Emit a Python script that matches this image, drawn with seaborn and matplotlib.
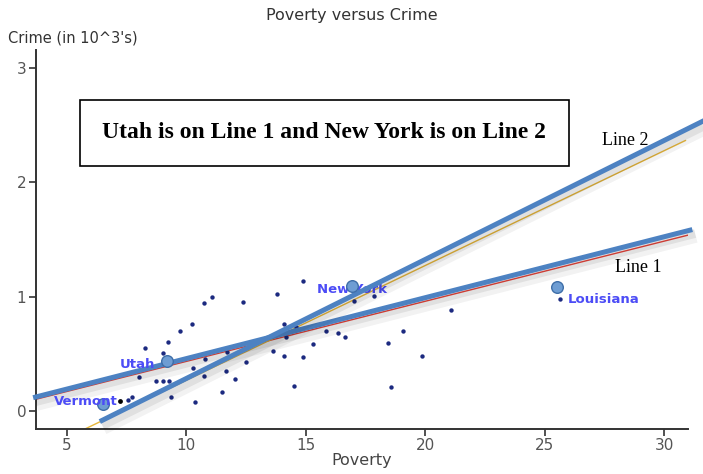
import numpy as np
import pandas as pd
import matplotlib
matplotlib.use("Agg")
import matplotlib.pyplot as plt
import matplotlib.patheffects as pe
import seaborn as sns

# State poverty rate (%) vs crime (thousands)
poverty = [9.73, 9.25, 8.30, 9.03, 8.03, 8.72, 9.03, 9.30, 7.75, 7.58, 9.38,
           14.88, 13.80, 12.37, 11.10, 10.73, 10.23, 14.10, 14.58, 15.87, 15.30,
           14.17, 13.65, 14.10, 14.88, 11.73, 10.80, 12.51, 10.28, 11.67, 10.73,
           12.03, 14.51, 11.51, 10.38, 17.03, 17.88, 21.08, 16.36, 16.65, 19.08,
           18.44, 19.88, 18.58, 25.65]
crime = [0.700, 0.605, 0.553, 0.503, 0.298, 0.260, 0.260, 0.260, 0.118, 0.094, 0.123,
         1.138, 1.024, 0.953, 0.997, 0.945, 0.760, 0.760, 0.737, 0.700, 0.585,
         0.644, 0.526, 0.482, 0.474, 0.512, 0.454, 0.425, 0.375, 0.351, 0.307,
         0.278, 0.214, 0.167, 0.074, 0.965, 1.006, 0.883, 0.679, 0.644, 0.700,
         0.597, 0.482, 0.205, 0.977]

# Single point drawn in black
black_x = [7.25]
black_y = [0.085]

# Highlighted states
states = ["Vermont", "Utah", "New York", "Louisiana"]
state_poverty = [6.54, 9.21, 16.94, 25.52]
state_crime = [0.056, 0.436, 1.088, 1.082]

# Fitted lines (intercept, slope) and drawn x-range
fit1 = (-0.096, 0.0527)      # thin red fit
fit2 = (-0.741, 0.1006)      # thin yellow fit
line1 = (-0.0786, 0.0534)    # "Line 1"
line2 = (-0.762, 0.1043)     # "Line 2"
fit1_x = [3.72, 31.0]
fit2_x = [5.80, 30.9]
line1_x = [3.60, 31.18]
line2_x = [6.39, 32.5]

df = pd.DataFrame({"Poverty": poverty, "Crime": crime})

sns.set_style("ticks")
plt.rcParams["font.family"] = ["DejaVu Sans"]

fig = plt.figure(figsize=(7.03, 4.74), dpi=100)
ax = fig.add_axes([0.0512, 0.0956, 0.9275, 0.799])

def line_df(coef, xs):
    xs = np.array(xs)
    return pd.DataFrame({"x": xs, "y": coef[0] + coef[1] * xs})

# Thin fit lines underneath
sns.lineplot(data=line_df(fit1, fit1_x), x="x", y="y", ax=ax, color="#e8453c",
             linewidth=1.0, zorder=2)
sns.lineplot(data=line_df(fit2, fit2_x), x="x", y="y", ax=ax, color="#e6b63a",
             linewidth=1.0, zorder=2)

# Scatter of states
sns.scatterplot(data=df, x="Poverty", y="Crime", ax=ax, color="#1c2a80",
                marker="o", s=10, linewidth=0, zorder=3)
sns.scatterplot(x=black_x, y=black_y, ax=ax, color="black", marker="o", s=12,
                linewidth=0, zorder=3)

# Thick lines with a soft shadow
shadow = [pe.SimpleLineShadow(offset=(2.5, -4.5), shadow_color="black", alpha=0.05, linewidth=10),
          pe.SimpleLineShadow(offset=(2, -3), shadow_color="black", alpha=0.07, linewidth=6),
          pe.Normal()]
for coef, xs in [(line1, line1_x), (line2, line2_x)]:
    sns.lineplot(data=line_df(coef, xs), x="x", y="y", ax=ax, color="#4d82c2",
                 linewidth=3.6, zorder=4, clip_on=False, path_effects=shadow,
                 solid_capstyle="butt")

# Highlighted state markers and names
sns.scatterplot(x=state_poverty, y=state_crime, ax=ax, color="#6e9dd3",
                edgecolor="#3e6ea8", s=70, linewidth=1.0, zorder=5)
name_style = dict(color="#4c4cf6", fontsize=9.5, fontweight="bold", va="center")
ax.text(7.13, 0.077, "Vermont", ha="right", zorder=6, **name_style)
ax.text(8.72, 0.40, "Utah", ha="right", zorder=6, **name_style)
ax.text(15.47, 1.059, "New York", ha="left", zorder=3, **name_style)
ax.text(25.97, 0.97, "Louisiana", ha="left", zorder=6, **name_style)

# Callout box and line names
ax.text(0.442, 0.781, "Utah is on Line 1 and New York is on Line 2",
        transform=ax.transAxes, ha="center", va="center", fontsize=17,
        fontweight="bold", family="Liberation Serif", color="black",
        bbox=dict(boxstyle="square,pad=0.95", facecolor="white",
                  edgecolor="black", linewidth=1.2), zorder=7)
ax.text(28.39, 2.37, "Line 2", ha="center", va="center", fontsize=13,
        family="Liberation Serif", color="black", zorder=7)
ax.text(28.9, 1.25, "Line 1", ha="center", va="center", fontsize=13,
        family="Liberation Serif", color="black", zorder=7)

ax.set_xlim(3.72, 31.0)
ax.set_ylim(-0.158, 3.16)
ax.set_xticks([5, 10, 15, 20, 25, 30])
ax.set_yticks([0, 1, 2, 3])
ax.tick_params(axis="both", direction="out", length=5, width=1.2, color="#333333",
               labelcolor="#555555", labelsize=11, pad=2)
for side in ["top", "right"]:
    ax.spines[side].set_visible(False)
for side in ["left", "bottom"]:
    ax.spines[side].set_color("#333333")
    ax.spines[side].set_linewidth(1.4)

ax.set_xlabel("Poverty", fontsize=11.5, color="#444444", labelpad=0)
ax.set_ylabel("")
fig.text(0.5, 0.967, "Poverty versus Crime", ha="center", va="center",
         fontsize=11.5, color="#333333")
fig.text(0.012, 0.92, "Crime (in 10^3's)", ha="left", va="center",
         fontsize=10.5, color="#333333")

fig.savefig("out.png", dpi=100)
